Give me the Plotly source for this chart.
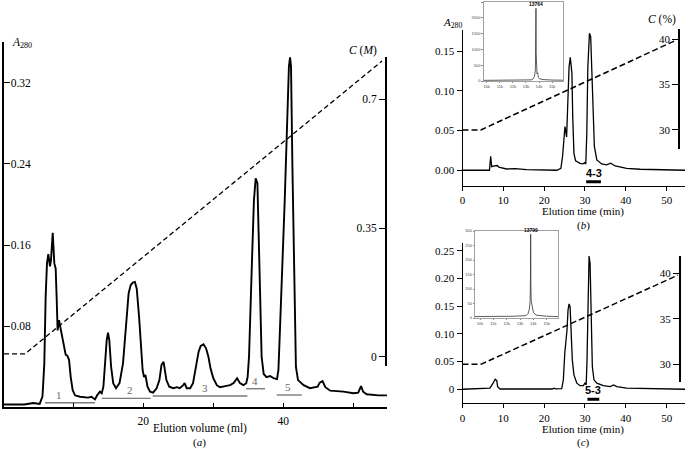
import plotly.graph_objects as go

W, H = 693, 449

def PX(px):
    return px / W

def PY(py):
    return 1 - py / H

# ---------------- Panel (a): chromatogram, elution volume (ml) vs A280 ----------------
vol_a = [0.1, 3.0, 4.3, 5.2, 5.6, 5.86, 6.05, 6.24, 6.43, 6.67,
         6.81, 7.06, 7.29, 7.48, 7.62, 7.76, 7.96, 8.14, 8.29, 8.57,
         8.91, 9.14, 9.39, 9.63, 9.91, 10.24, 10.96, 12.1, 12.6, 13.1,
         13.4, 13.8, 14.06, 14.3, 14.5, 14.77, 14.96, 15.14, 15.4, 15.7,
         16.1, 16.6, 17.1, 17.5, 17.9, 18.2, 18.5, 18.8, 19.06, 19.4,
         19.67, 19.9, 20.1, 20.3, 20.6, 20.96, 21.4, 21.9, 22.3, 22.6,
         22.9, 23.1, 23.3, 23.7, 24.3, 24.8, 25.2, 25.7, 25.9, 26.2,
         26.7, 27.1, 27.5, 27.9, 28.2, 28.6, 28.96, 29.3, 29.6, 30.0,
         30.5, 30.96, 31.7, 32.4, 32.9, 33.4, 33.8, 34.3, 34.7, 34.9,
         35.1, 35.3, 35.57, 35.8, 36.05, 36.3, 36.5, 36.7, 36.9, 37.2,
         37.6, 38.1, 38.6, 39.1, 39.3, 39.5, 39.9, 40.2, 40.5, 40.8,
         40.96, 41.1, 41.3, 41.6, 41.8, 42.1, 42.9, 43.8, 44.9, 45.2,
         45.6, 46.0, 46.7, 48.6, 50.0, 50.7, 51.1, 51.4, 51.9, 53.6,
         54.8]
a280_a = [0.003, 0.003, 0.0044, 0.0035, 0.011, 0.0435, 0.109, 0.142, 0.151, 0.139,
          0.145, 0.172, 0.142, 0.137, 0.109, 0.076, 0.086, 0.080, 0.073, 0.063,
          0.052, 0.051, 0.047, 0.030, 0.017, 0.012, 0.0106, 0.0097, 0.0106, 0.008,
          0.012, 0.0156, 0.014, 0.0205, 0.0435, 0.0665, 0.0737, 0.0665, 0.040, 0.024,
          0.019, 0.024, 0.0435, 0.083, 0.1125, 0.1207, 0.123, 0.1237, 0.117, 0.089,
          0.057, 0.037, 0.030, 0.032, 0.0205, 0.0156, 0.0146, 0.019, 0.027, 0.042,
          0.045, 0.037, 0.027, 0.0205, 0.019, 0.020, 0.019, 0.022, 0.024, 0.019,
          0.019, 0.024, 0.040, 0.055, 0.0606, 0.0623, 0.0583, 0.050, 0.0386, 0.0288,
          0.022, 0.020, 0.021, 0.022, 0.024, 0.0288, 0.024, 0.022, 0.024, 0.030,
          0.050, 0.106, 0.155, 0.204, 0.2258, 0.221, 0.155, 0.089, 0.050, 0.033,
          0.030, 0.031, 0.029, 0.028, 0.037, 0.073, 0.139, 0.204, 0.270, 0.336,
          0.345, 0.336, 0.237, 0.106, 0.040, 0.027, 0.022, 0.019, 0.0205, 0.0245,
          0.026, 0.020, 0.0166, 0.0156, 0.014, 0.0146, 0.021, 0.0156, 0.013, 0.012,
          0.012]
grad_vol_a = [0.1, 3.1, 54.1]
grad_conc_a = [0.008, 0.008, 0.804]
frac_start = [5.96, 14.06, 21.34, 34.67, 39.06]
frac_end = [13.1, 21.06, 34.86, 37.39, 42.63]
frac_level = [0.0047, 0.009, 0.0113, 0.0185, 0.0123]
frac_label_vol = [8.0, 18.1, 28.8, 36.0, 40.6]
frac_labels = ["1", "2", "3", "4", "5"]
a_yticks = [0.08, 0.16, 0.24, 0.32]
a_xticks = [20, 40]
a_xminor = [10, 30, 50]
a_cticks = [0, 0.35, 0.7]

# ---------------- Panel (b) ----------------
time_b = [0, 6.6, 6.9, 7.15, 7.8, 8.5, 8.9, 10.8, 12.9, 15.7,
          23.1, 24.1, 24.5, 24.9, 25.1, 25.5, 25.8, 26.1, 26.4, 26.8,
          27.0, 27.3, 27.7, 28.8, 29.5, 29.9, 30.2, 30.45, 30.7, 31.1,
          31.4, 31.7, 31.9, 32.3, 32.9, 34.1, 35.3, 36.3, 37.4, 40.2,
          43.5, 54.5]
a280_b = [0, 0, 0.0175, 0.0045, 0.0054, 0.006, 0.004, 0.0016, 0.002, 0.0008,
          0, 0.0025, 0.017, 0.038, 0.055, 0.042, 0.088, 0.130, 0.142, 0.122,
          0.0675, 0.021, 0.012, 0.0088, 0.008, 0.0095, 0.008, 0.047, 0.130, 0.1725,
          0.168, 0.122, 0.0675, 0.030, 0.013, 0.008, 0.0067, 0.0088, 0.0054, 0.0025,
          0.0013, 0]
grad_time_b = [0, 4.5, 52.5]
grad_pct_b = [30, 30, 39.9]
pool_b = [30.3, 33.9]
pool_b_level = -0.0144
pool_b_name = "4-3"
b_yticks = [0, 0.05, 0.10, 0.15]
b_yticktext = ["0.00", "0.05", "0.10", "0.15"]

# ---------------- Panel (c) ----------------
time_c = [0, 6.7, 7.5, 8.0, 8.4, 8.6, 9.2, 22.0, 22.4, 22.8,
          24.3, 24.7, 25.05, 25.3, 25.45, 25.6, 25.85, 26.1, 26.35, 26.6,
          26.9, 27.3, 28.0, 28.8, 29.6, 30.0, 30.3, 30.5, 30.8, 31.0,
          31.25, 31.5, 31.8, 32.2, 32.9, 34.5, 36.2, 37.0, 37.8, 40.2,
          54.5]
a280_c = [0, 0.002, 0.011, 0.018, 0.0155, 0.0047, 0.0005, 0.0005, 0.002, 0.0008,
          0.001, 0.017, 0.065, 0.083, 0.086, 0.107, 0.143, 0.154, 0.149, 0.107,
          0.053, 0.026, 0.011, 0.0065, 0.0065, 0.011, 0.008, 0.053, 0.185, 0.2404,
          0.227, 0.125, 0.041, 0.017, 0.011, 0.0065, 0.0047, 0.0078, 0.0047, 0.002,
          0]
grad_time_c = [0, 4.5, 52.8]
grad_pct_c = [30, 30, 39.8]
pool_c = [30.6, 33.5]
pool_c_level = -0.018
pool_c_name = "5-3"
c_yticks = [0, 0.05, 0.10, 0.15, 0.20, 0.25]
c_yticktext = ["0", "0.05", "0.10", "0.15", "0.20", "0.25"]
time_ticks = [0, 10, 20, 30, 40, 50]
pct_ticks = [30, 35, 40]

# ---------------- Insets: mass spectra ----------------
ms_b_mass = [9750, 11000, 12500, 13400, 13550, 13650, 13720, 13745, 13764, 13780,
             13800, 13840, 13890, 13920, 13960, 14050, 14300, 15000, 15870]
ms_b_int = [20, 25, 25, 35, 70, 150, 350, 900, 2300, 900,
            300, 230, 260, 180, 110, 70, 45, 30, 25]
ms_b_peak = 13764
ms_c_mass = [9625, 11000, 12500, 13450, 13600, 13700, 13760, 13785, 13799, 13815,
             13840, 13880, 13930, 14000, 14200, 15000, 15850]
ms_c_int = [5, 5, 6, 8, 15, 30, 60, 140, 289, 120,
            60, 45, 35, 20, 10, 6, 5]
ms_c_peak = 13799
ms_xticks = [10000, 11000, 12000, 13000, 14000, 15000]
ms_b_yticks = [0, 500, 1000, 1500, 2000, 2500]
ms_c_yticks = [0, 50, 100, 150, 200, 250, 300]

SERIF = "Liberation Serif, Times New Roman, Times, serif"
SANS = "Liberation Sans, Arial, sans-serif"

fig = go.Figure()

# (a)
fig.add_trace(go.Scatter(x=vol_a, y=a280_a, xaxis="x", yaxis="y", mode="lines",
                         line=dict(color="black", width=1.9), hoverinfo="skip"))
fig.add_trace(go.Scatter(x=grad_vol_a, y=grad_conc_a, xaxis="x", yaxis="y2", mode="lines",
                         line=dict(color="black", width=1.3, dash="5px,3px"), hoverinfo="skip"))
bx, by = [], []
for s, e, lv in zip(frac_start, frac_end, frac_level):
    bx += [s, e, None]
    by += [lv, lv, None]
fig.add_trace(go.Scatter(x=bx, y=by, xaxis="x", yaxis="y", mode="lines",
                         line=dict(color="#7a7a7a", width=1.4), hoverinfo="skip"))

# (b)
fig.add_trace(go.Scatter(x=time_b, y=a280_b, xaxis="x2", yaxis="y3", mode="lines",
                         line=dict(color="black", width=1.3), hoverinfo="skip"))
fig.add_trace(go.Scatter(x=grad_time_b, y=grad_pct_b, xaxis="x2", yaxis="y4", mode="lines",
                         line=dict(color="black", width=1.5, dash="6px,3px"), hoverinfo="skip"))
fig.add_trace(go.Scatter(x=pool_b, y=[pool_b_level] * 2, xaxis="x2", yaxis="y3", mode="lines",
                         line=dict(color="black", width=3), hoverinfo="skip"))

# (c)
fig.add_trace(go.Scatter(x=time_c, y=a280_c, xaxis="x3", yaxis="y5", mode="lines",
                         line=dict(color="black", width=1.3), hoverinfo="skip"))
fig.add_trace(go.Scatter(x=grad_time_c, y=grad_pct_c, xaxis="x3", yaxis="y6", mode="lines",
                         line=dict(color="black", width=1.5, dash="6px,3px"), hoverinfo="skip"))
fig.add_trace(go.Scatter(x=pool_c, y=[pool_c_level] * 2, xaxis="x3", yaxis="y5", mode="lines",
                         line=dict(color="black", width=3), hoverinfo="skip"))

# insets
fig.add_trace(go.Scatter(x=ms_b_mass, y=ms_b_int, xaxis="x4", yaxis="y7", mode="lines",
                         line=dict(color="#333333", width=0.8), hoverinfo="skip"))
fig.add_trace(go.Scatter(x=ms_c_mass, y=ms_c_int, xaxis="x5", yaxis="y8", mode="lines",
                         line=dict(color="#333333", width=0.8), hoverinfo="skip"))

tickfont_a = dict(family=SERIF, size=11.5, color="black")
tickfont_b = dict(family=SERIF, size=11, color="black")
tinyfont = dict(family=SANS, size=4, color="#444444")

common = dict(showgrid=False, zeroline=False, showline=True, linecolor="black")

layout = dict(
    width=W, height=H, margin=dict(l=0, r=0, t=0, b=0),
    paper_bgcolor="white", plot_bgcolor="rgba(0,0,0,0)",
    showlegend=False, template="none",
    # (a)
    xaxis=dict(domain=[PX(4), PX(387)], range=[0.1, 54.81], anchor="y",
               tickvals=a_xticks, ticks="inside", ticklen=4,
               minor=dict(tickvals=a_xminor, ticks="inside", ticklen=4, tickcolor="black",
                          showgrid=False),
               tickcolor="black", linewidth=1.5, tickfont=tickfont_a, ticklabelstandoff=3, **common),
    yaxis=dict(domain=[PY(407), PY(42)], range=[0.0005, 0.3601], anchor="x",
               tickvals=a_yticks, ticks="inside", ticklen=6, ticklabelposition="inside",
               tickcolor="black", linewidth=2, tickfont=tickfont_a, **common),
    yaxis2=dict(domain=[PY(366), PY(57)], range=[-0.025, 0.815], anchor="free",
                position=PX(386), side="left", tickvals=a_cticks, ticktext=["0", "0.35", "0.7"],
                ticks="outside", ticklen=6, tickcolor="black", linewidth=2,
                tickfont=tickfont_a, **common),
    # (b)
    xaxis2=dict(domain=[PX(462.5), PX(685)], range=[0, 54.5], anchor="y3",
                tickvals=time_ticks, ticks="outside", ticklen=4, tickcolor="black",
                linewidth=1, tickfont=tickfont_b, **common),
    yaxis3=dict(domain=[PY(186), PY(30)], range=[-0.0198, 0.1765], anchor="x2",
                tickvals=b_yticks, ticktext=b_yticktext, ticks="outside", ticklen=5,
                tickcolor="black", linewidth=1, tickfont=tickfont_b, **common),
    yaxis4=dict(domain=[PY(149), PY(29)], range=[27.9, 41.1], anchor="free",
                position=PX(679.3), side="left", tickvals=pct_ticks, ticks="outside",
                ticklen=6, tickcolor="black", linewidth=2, tickfont=tickfont_b, **common),
    # (c)
    xaxis3=dict(domain=[PX(462.5), PX(685)], range=[0, 54.5], anchor="y5",
                tickvals=time_ticks, ticks="outside", ticklen=4, tickcolor="black",
                linewidth=1, tickfont=tickfont_b, **common),
    yaxis5=dict(domain=[PY(403.3), PY(242.7)], range=[-0.0253, 0.2644], anchor="x3",
                tickvals=c_yticks, ticktext=c_yticktext, ticks="outside", ticklen=5,
                tickcolor="black", linewidth=1, tickfont=tickfont_b, **common),
    yaxis6=dict(domain=[PY(381.7), PY(256)], range=[28.09, 41.9], anchor="free",
                position=PX(680), side="left", tickvals=pct_ticks, ticks="outside",
                ticklen=6, tickcolor="black", linewidth=2, tickfont=tickfont_b, **common),
    # inset (b)
    xaxis4=dict(domain=[PX(483.5), PX(563.5)], range=[9750, 15870], anchor="y7",
                tickvals=ms_xticks, ticks="outside", ticklen=1.5, tickcolor="#888",
                linecolor="#8a8a8a", linewidth=0.8, mirror=True, showline=True,
                showgrid=False, zeroline=False, tickfont=tinyfont, ticklabelstandoff=0),
    yaxis7=dict(domain=[PY(81), PY(2)], range=[0, 2500], anchor="x4",
                tickvals=ms_b_yticks, ticks="outside", ticklen=1.5, tickcolor="#888",
                linecolor="#8a8a8a", linewidth=0.8, mirror=True, showline=True,
                showgrid=False, zeroline=False, tickfont=tinyfont, ticklabelstandoff=0),
    # inset (c)
    xaxis5=dict(domain=[PX(475), PX(558)], range=[9625, 15850], anchor="y8",
                tickvals=ms_xticks, ticks="outside", ticklen=1.5, tickcolor="#888",
                linecolor="#8a8a8a", linewidth=0.8, mirror=True, showline=True,
                showgrid=False, zeroline=False, tickfont=tinyfont, ticklabelstandoff=0),
    yaxis8=dict(domain=[PY(318), PY(231)], range=[0, 300], anchor="x5",
                tickvals=ms_c_yticks, ticks="outside", ticklen=1.5, tickcolor="#888",
                linecolor="#8a8a8a", linewidth=0.8, mirror=True, showline=True,
                showgrid=False, zeroline=False, tickfont=tinyfont, ticklabelstandoff=0),
)
fig.update_layout(**layout)

ann = []

def text(x, y, t, size=11.5, family=SERIF, xanchor="center", yanchor="middle",
         color="black", xref="paper", yref="paper", yshift=0):
    ann.append(dict(x=x, y=y, text=t, showarrow=False, xref=xref, yref=yref,
                    xanchor=xanchor, yanchor=yanchor, yshift=yshift, borderpad=0,
                    font=dict(family=family, size=size, color=color)))

# (a) labels
text(PX(11), PY(43), "<i>A</i><sub>280</sub>", size=11.5, xanchor="left")
text(PX(378), PY(50), "<i>C</i> (<i>M</i>)", size=11.5, xanchor="right")
text(PX(200), PY(428.5), "Elution volume (ml)", size=11.5)
text(PX(200), PY(449.5), "(<i>a</i>)", size=11, yanchor="bottom")
for lx, lv, lab in zip(frac_label_vol, frac_level, frac_labels):
    text(lx, lv, lab, size=11, color="#666666", xref="x", yref="y", yanchor="bottom", yshift=1)

# (b) labels
text(PX(442), PY(23), "<i>A</i><sub>280</sub>", size=11, xanchor="left")
text(PX(677), PY(19), "<i>C</i> (%)", size=11.5, xanchor="right")
text(PX(583), PY(211.5), "Elution time (min)", size=11)
text(PX(583), PY(225), "(<i>b</i>)", size=11)
text(sum(pool_b) / 2, pool_b_level, "<b>" + pool_b_name + "</b>", size=11, family=SANS,
     xref="x2", yref="y3", yanchor="bottom", yshift=2)

# (c) labels
text(PX(583), PY(429.5), "Elution time (min)", size=11)
text(PX(583), PY(449.5), "(<i>c</i>)", size=11, yanchor="bottom")
text(sum(pool_c) / 2, pool_c_level, "<b>" + pool_c_name + "</b>", size=11, family=SANS,
     xref="x3", yref="y5", yanchor="bottom", yshift=2)

# inset peak labels
text(ms_b_peak, max(ms_b_int), "<b>" + str(ms_b_peak) + "</b>", size=5, family=SANS,
     xref="x4", yref="y7", yanchor="bottom", yshift=0)
text(ms_c_peak, max(ms_c_int), "<b>" + str(ms_c_peak) + "</b>", size=5, family=SANS,
     xref="x5", yref="y8", yanchor="bottom", yshift=0)

fig.update_layout(annotations=ann)
fig.write_html("out.html", config={"displayModeBar": False, "staticPlot": True},
               post_script="document.body.style.margin='0';document.body.style.overflow='hidden';")
